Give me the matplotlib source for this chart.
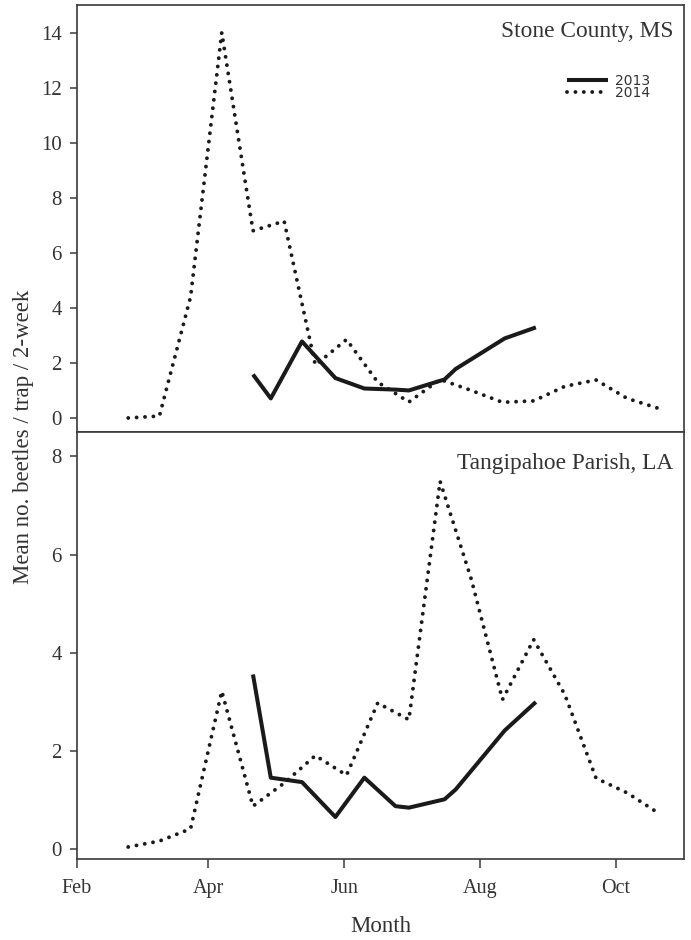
import matplotlib
matplotlib.use("Agg")
import matplotlib.pyplot as plt

plt.rcParams['font.family'] = ['Liberation Serif', 'DejaVu Serif']

# ---- data (day of year) ----
month_ticks = [32, 91, 152, 213, 274]
month_labels = ["Feb", "Apr", "Jun", "Aug", "Oct"]

days_2013 = [111, 119, 133, 148, 161, 175, 181, 197, 202, 224, 238]
stone_2013 = [1.58, 0.71, 2.78, 1.45, 1.07, 1.03, 1.00, 1.40, 1.78, 2.89, 3.29]
tang_2013 = [3.56, 1.46, 1.37, 0.66, 1.46, 0.88, 0.85, 1.02, 1.22, 2.42, 3.00]

days_2014 = [55, 69, 83, 97, 111, 125, 139, 153, 167, 181, 195, 209, 223, 237, 251, 265, 279, 293]
stone_2014 = [0.0, 0.07, 4.4, 14.0, 6.8, 7.15, 1.92, 2.85, 1.3, 0.58, 1.4, 1.0, 0.57, 0.62, 1.15, 1.38, 0.71, 0.35]
tang_2014 = [0.05, 0.17, 0.42, 3.22, 0.88, 1.35, 1.91, 1.51, 2.98, 2.64, 7.49, 5.5, 3.05, 4.27, 3.15, 1.45, 1.15, 0.74]

stone_yticks = [0, 2, 4, 6, 8, 10, 12, 14]
tang_yticks = [0, 2, 4, 6, 8]

# ---- figure ----
fig = plt.figure(figsize=(6.91, 9.40), dpi=100)
ax1 = fig.add_axes([0.1114, 0.5407, 0.8785, 0.4540])
ax2 = fig.add_axes([0.1114, 0.0859, 0.8785, 0.4548])

spine_c = "#3a3a3a"
text_c = "#333333"
line_c = "#1a1a1a"
solid_kw = dict(color=line_c, lw=2.9, solid_capstyle='butt')
dot_kw = dict(color=line_c, lw=2.8, linestyle=(0, (0.01, 2.15)), dash_capstyle='round')

for ax, d13, d14, yt, ylim in [(ax1, stone_2013, stone_2014, stone_yticks, (-0.5, 15.0)),
                               (ax2, tang_2013, tang_2014, tang_yticks, (-0.2, 8.5))]:
    ax.plot(days_2013, d13, label="2013", **solid_kw)
    ax.plot(days_2014, d14, label="2014", **dot_kw)
    ax.set_xlim(32, 304.5)
    ax.set_ylim(*ylim)
    ax.set_yticks(yt)
    ax.set_yticklabels([str(v) for v in yt])
    for s in ax.spines.values():
        s.set_color(spine_c)
        s.set_linewidth(1.2)
    ax.tick_params(axis='y', direction='out', length=5, width=1.1, color=spine_c,
                   labelsize=15, labelcolor=text_c, pad=6)
    ax.tick_params(axis='x', direction='out', length=6.5, width=1.1, color=spine_c,
                   labelsize=14.5, labelcolor=text_c, pad=7.5)

ax1.set_xticks([])
ax2.set_xticks(month_ticks)
ax2.set_xticklabels(month_labels)

ax1.text(0.9819, 0.9243, "Stone County, MS", transform=ax1.transAxes, ha='right',
         va='baseline', fontsize=16.8, color=text_c)
ax2.text(0.9819, 0.912, "Tangipahoe Parish, LA", transform=ax2.transAxes, ha='right',
         va='baseline', fontsize=16.8, color=text_c)

leg = ax1.legend(loc='center left', bbox_to_anchor=(0.8068, 0.8078), frameon=False,
                 borderpad=0, borderaxespad=0, handlelength=3.0, handletextpad=0.48,
                 labelspacing=-0.12, prop={'family': 'DejaVu Sans', 'size': 10})
for t in leg.get_texts():
    t.set_color(text_c)

fig.text(24 / 691, 1 - 437 / 940, "Mean no. beetles / trap / 2-week", rotation=90,
         ha='center', va='center', fontsize=16.5, color=text_c)
fig.text(380.5 / 691, 1 - 927 / 940, "Month", ha='center', va='center',
         fontsize=16.5, color=text_c)

fig.savefig("out.png", dpi=100)
